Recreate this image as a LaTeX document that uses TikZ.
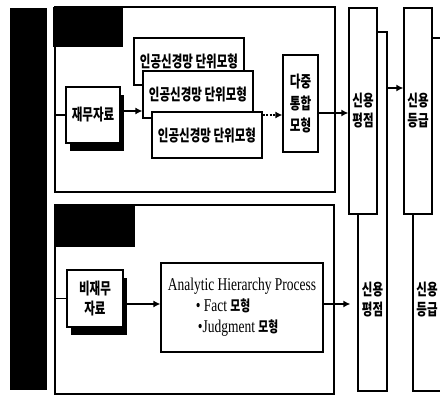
\documentclass[tikz,border=0pt]{standalone}
\usepackage{fontspec}
\setmainfont{Liberation Serif}
\newfontfamily\krfont{Noto Sans CJK KR}[FakeStretch=0.72]
\newfontfamily\ahpfont{Liberation Serif}[FakeStretch=0.75]
\usetikzlibrary{arrows.meta,shadows}
\newcommand{\kor}[1]{{\krfont\bfseries\fontsize{15}{20}\selectfont #1}}
\tikzset{
  panel/.style={draw, line width=1.1pt, inner sep=0pt},
  tab/.style={fill=black, inner sep=0pt},
  box/.style={draw, fill=white, line width=1.2pt, inner sep=0pt, align=center,
              font={\krfont\bfseries\fontsize{16}{20}\selectfont}},
  shbox/.style={box, drop shadow={shadow xshift=4pt, shadow yshift=-8pt, fill=black, opacity=1}},
  col/.style={box, line width=1.3pt},
  coltext/.style={align=center, inner sep=0pt, font={\krfont\bfseries\fontsize{16}{20}\selectfont}},
  link/.style={line width=1.4pt},
  feeds/.style={link, -{Latex[length=7pt,width=7pt]}},
  feedsdot/.style={feeds, dash pattern=on 2pt off 1.5pt},
}

\begin{document}
\begin{tikzpicture}[x=1pt,y=-1pt]
\useasboundingbox (0,0) rectangle (440,396);
\node[tab, minimum width=37, minimum height=382] (bar) at (28.5,199) {};
% upper panel
\node[panel, minimum width=280, minimum height=185] (upPanel) at (195,99.5) {};
\node[tab, minimum width=70, minimum height=40] (upTab) at (88,27) {};
\node[shbox, minimum width=54, minimum height=56] (fin) at (93,115) {재무자료};
\node[box, minimum width=110, minimum height=47] (nnA) at (189,61.5) {인공신경망 단위모형};
\node[box, minimum width=110, minimum height=47] (nnB) at (198,94.5) {인공신경망 단위모형};
\node[box, minimum width=110, minimum height=46] (nnC) at (207,135) {인공신경망 단위모형};
\node[box, minimum width=35, minimum height=97,
      font={\krfont\bfseries\fontsize{16}{22}\selectfont}] (multi) at (300.5,103.5) {다중\\통합\\모형};
% lower panel
\node[panel, minimum width=279, minimum height=189] (lowPanel) at (194.5,299.5) {};
\node[tab, minimum width=81, minimum height=42] (lowTab) at (94.5,226) {};
\node[shbox, minimum width=56, minimum height=57] (nonfin) at (95,298.5) {비재무\\자료};
\node[box, minimum width=162, minimum height=89, align=left,
      font={\ahpfont\fontsize{18}{21}\selectfont}] (ahp) at (242,307.5)
  {Analytic Hierarchy Process\\\hspace{28pt}• Fact \kor{모형}\\\hspace{30pt}•Judgment \kor{모형}};
% result columns
\node[col, minimum width=29, minimum height=359] (scoreB) at (372.5,211.5) {};
\node[col, minimum width=28, minimum height=206] (scoreA) at (363,111) {신용\\평점};
\node[col, minimum width=28, minimum height=353] (gradeB) at (427,214.5) {};
\node[col, minimum width=28, minimum height=206] (gradeA) at (418,111) {신용\\등급};
\node[coltext] (scoreBtxt) at (scoreB |- 0,300) {신용\\평점};
\node[coltext] (gradeBtxt) at (gradeB |- 0,300) {신용\\등급};
% connectors
\draw[link] (upPanel.west |- fin) -- (fin.west);
\draw[feeds] (fin.east |- 0,111) -- (nnB.west |- 0,111);
\draw[feedsdot] (nnC.east |- 0,115) -- (multi.west |- 0,115);
\draw[feeds] (multi.east |- 0,113) -- (scoreA.west |- 0,113);
\draw[feeds] (scoreB.east |- 0,88) -- (gradeA.west |- 0,88);
\draw[link] (lowPanel.west |- nonfin) -- (nonfin.west);
\draw[feeds] (nonfin.east |- 0,304) -- (ahp.west |- 0,304);
\draw[feeds, shorten >=7pt] (ahp.east |- 0,304) -- (scoreB.west |- 0,304);
\end{tikzpicture}
\end{document}
